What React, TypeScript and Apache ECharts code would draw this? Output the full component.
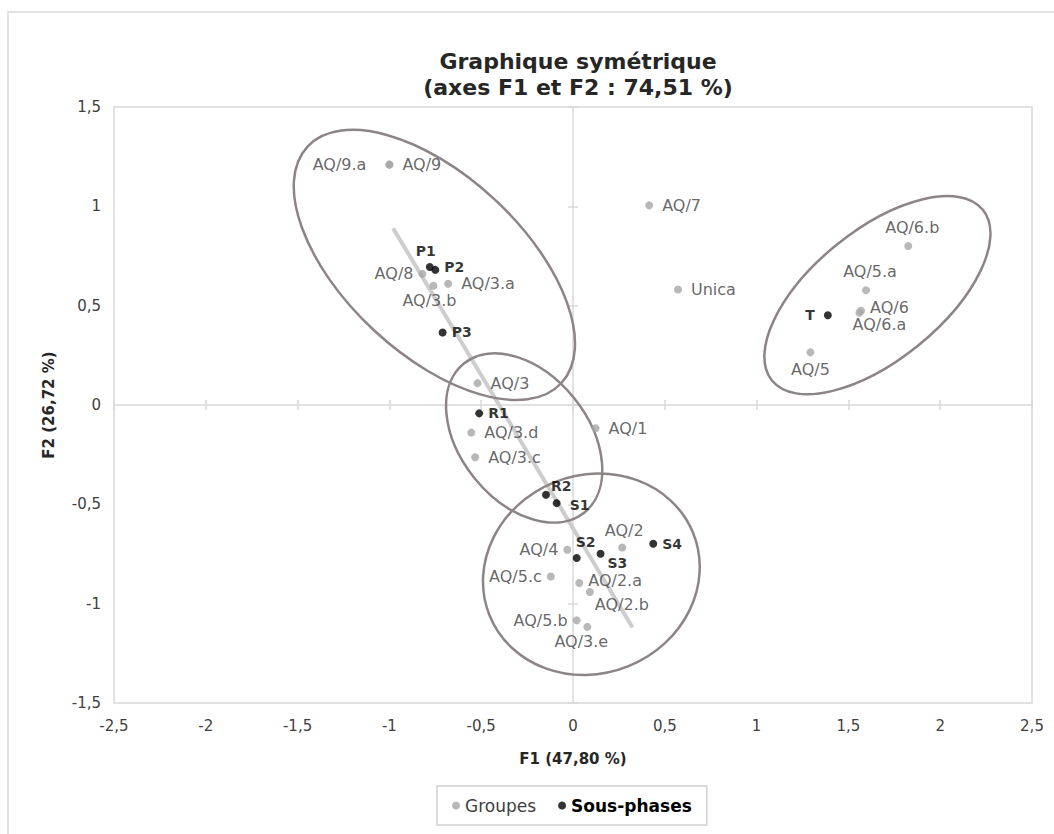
import React, { useEffect, useRef } from "react";
import * as echarts from "echarts";

// ---- Data ----
const groupNames = [
  "AQ/9.a", "AQ/9", "AQ/7", "Unica", "AQ/6.b", "AQ/5.a", "AQ/6", "AQ/6.a", "AQ/5",
  "AQ/8", "AQ/3.b", "AQ/3.a", "AQ/3", "AQ/3.d", "AQ/3.c", "AQ/1",
  "AQ/4", "AQ/2", "AQ/5.c", "AQ/2.a", "AQ/2.b", "AQ/5.b", "AQ/3.e",
];
const groupX = [
  -1.0, -1.0, 0.415, 0.572, 1.826, 1.596, 1.569, 1.56, 1.293,
  -0.82, -0.76, -0.68, -0.52, -0.554, -0.533, 0.123,
  -0.031, 0.268, -0.121, 0.034, 0.092, 0.02, 0.078,
];
const groupY = [
  1.21, 1.21, 1.005, 0.581, 0.8, 0.578, 0.474, 0.464, 0.265,
  0.66, 0.6, 0.61, 0.11, -0.139, -0.263, -0.117,
  -0.729, -0.717, -0.863, -0.896, -0.941, -1.084, -1.117,
];

const phaseNames = ["P1", "P2", "P3", "R1", "R2", "S1", "S2", "S3", "S4", "T"];
const phaseX = [-0.78, -0.75, -0.71, -0.511, -0.147, -0.089, 0.02, 0.15, 0.437, 1.388];
const phaseY = [0.695, 0.68, 0.365, -0.042, -0.452, -0.494, -0.77, -0.749, -0.698, 0.452];

// trend line end points
const trendX = [-0.98, 0.324];
const trendY = [0.89, -1.12];

// ellipses: centre x, centre y, semi-major, semi-minor (x-axis units), angle (deg, counter-clockwise)
const ellipseCx = [-0.755, -0.266, 0.1, 1.658];
const ellipseCy = [0.705, -0.166, -0.852, 0.553];
const ellipseA = [0.945, 0.522, 0.598, 0.739];
const ellipseB = [0.485, 0.348, 0.54, 0.353];
const ellipseAngle = [-43, -51, 22, 39];

const xTickMin = -2.5;
const xTickMax = 2.5;
const yTickMin = -1.5;
const yTickMax = 1.5;
const tickStep = 0.5;

// ---- Label placement (styles) ----
type Place = { position: string; offset?: number[] };
const labelPlace: Record<string, Place> = {
  "AQ/9.a": { position: "left", offset: [-14, 0] },
  "AQ/9": { position: "right", offset: [4, 0] },
  "AQ/7": { position: "right", offset: [4, 0] },
  Unica: { position: "right", offset: [4, 0] },
  "AQ/6.b": { position: "top", offset: [4, -2] },
  "AQ/5.a": { position: "top", offset: [4, -2] },
  "AQ/6": { position: "right", offset: [0, -3] },
  "AQ/6.a": { position: "bottom", offset: [20, -5] },
  "AQ/5": { position: "bottom" },
  "AQ/8": { position: "left" },
  "AQ/3.b": { position: "bottom", offset: [-4, -2] },
  "AQ/3.a": { position: "right", offset: [4, 0] },
  "AQ/3": { position: "right", offset: [4, 0] },
  "AQ/3.d": { position: "right", offset: [4, 0] },
  "AQ/3.c": { position: "right", offset: [4, 0] },
  "AQ/1": { position: "right", offset: [4, 0] },
  "AQ/4": { position: "left" },
  "AQ/2": { position: "top", offset: [2, 0] },
  "AQ/5.c": { position: "left" },
  "AQ/2.a": { position: "right", offset: [0, -3] },
  "AQ/2.b": { position: "bottom", offset: [32, -4] },
  "AQ/5.b": { position: "left" },
  "AQ/3.e": { position: "bottom", offset: [-6, -2] },
  P1: { position: "top", offset: [-4, 0] },
  P2: { position: "right", offset: [0, -3] },
  P3: { position: "right" },
  R1: { position: "right" },
  R2: { position: "right", offset: [-4, -9] },
  S1: { position: "right", offset: [4, 2] },
  S2: { position: "top", offset: [9, 0] },
  S3: { position: "right", offset: [-2, 9] },
  S4: { position: "right" },
  T: { position: "left", offset: [-4, 0] },
};

const FONT = "'Century Gothic', 'DejaVu Sans', sans-serif";
const fmt = (v: number) => String(v).replace(".", ",");

export default function App() {
  const ref = useRef<HTMLDivElement>(null);

  useEffect(() => {
    if (!ref.current) return;
    const chart = echarts.init(ref.current, undefined, { renderer: "svg" });

    const groupData = groupNames.map((n, i) => ({
      name: n,
      value: [groupX[i], groupY[i]],
      label: { position: labelPlace[n]?.position || "right", offset: labelPlace[n]?.offset || [0, 0] },
    }));
    const phaseData = phaseNames.map((n, i) => ({
      name: n,
      value: [phaseX[i], phaseY[i]],
      label: { position: labelPlace[n]?.position || "right", offset: labelPlace[n]?.offset || [0, 0] },
    }));
    const ellipseData = ellipseCx.map((cx, i) => [cx, ellipseCy[i], ellipseA[i], ellipseB[i], ellipseAngle[i]]);

    const zeroLine = { color: "#d9d9d9", width: 1.5 };
    const baseX = { type: "value", min: xTickMin, max: xTickMax, interval: tickStep, position: "bottom", splitLine: { show: false } };
    const baseY = { type: "value", min: yTickMin, max: yTickMax, interval: tickStep, position: "left", splitLine: { show: false } };

    chart.setOption({
      animation: false,
      backgroundColor: "#ffffff",
      textStyle: { fontFamily: FONT },
      title: {
        text: "Graphique symétrique\n(axes F1 et F2 : 74,51 %)",
        left: 573,
        textAlign: "center",
        top: 43,
        textStyle: { fontFamily: FONT, fontSize: 22, fontWeight: "bold", color: "#262626", lineHeight: 26 },
      },
      graphic: [
        {
          type: "rect",
          shape: { x: 8, y: 12, width: 1100, height: 900 },
          style: { fill: "transparent", stroke: "#d9d9d9", lineWidth: 1.5 },
          silent: true,
          z: -10,
        },
      ],
      legend: {
        data: ["Groupes", "Sous-phases"],
        left: 437,
        top: 786,
        padding: [11, 15],
        borderColor: "#cfcfcf",
        borderWidth: 1.5,
        icon: "circle",
        itemWidth: 8,
        itemHeight: 8,
        itemGap: 22,
        textStyle: {
          fontFamily: FONT,
          fontSize: 17,
          color: "#404040",
          rich: {
            n: { fontFamily: FONT, fontSize: 17, color: "#404040" },
            b: { fontFamily: FONT, fontSize: 17, color: "#000", fontWeight: "bold" },
          },
        },
        formatter: (name: string) => (name === "Sous-phases" ? `{b|${name}}` : `{n|${name}}`),
      },
      grid: { left: 114, right: 22, top: 107, bottom: 131, show: true, borderColor: "#d9d9d9", borderWidth: 1.5, backgroundColor: "transparent" },
      xAxis: [
        {
          ...baseX,
          axisLine: { show: false, onZero: false },
          axisTick: { show: false },
          axisLabel: { margin: 15, fontSize: 15, color: "#404040", fontFamily: FONT, formatter: fmt },
          name: "F1 (47,80 %)",
          nameLocation: "middle",
          nameGap: 48,
          nameTextStyle: { fontFamily: FONT, fontSize: 15, fontWeight: "bold", color: "#262626" },
        },
        {
          ...baseX,
          axisLine: { show: true, onZero: true, onZeroAxisIndex: 0, lineStyle: zeroLine },
          axisTick: { show: true, inside: true, length: 5, lineStyle: zeroLine },
          axisLabel: { show: false },
        },
        {
          ...baseX,
          axisLine: { show: false, onZero: true, onZeroAxisIndex: 0, lineStyle: zeroLine },
          axisTick: { show: true, inside: false, length: 5, lineStyle: zeroLine },
          axisLabel: { show: false },
        },
      ],
      yAxis: [
        {
          ...baseY,
          axisLine: { show: false, onZero: false },
          axisTick: { show: false },
          axisLabel: { margin: 13, fontSize: 15, color: "#404040", fontFamily: FONT, formatter: fmt },
          name: "F2 (26,72 %)",
          nameLocation: "middle",
          nameGap: 58,
          nameRotate: 90,
          nameTextStyle: { fontFamily: FONT, fontSize: 15, fontWeight: "bold", color: "#262626" },
        },
        {
          ...baseY,
          axisLine: { show: true, onZero: true, onZeroAxisIndex: 0, lineStyle: zeroLine },
          axisTick: { show: true, inside: true, length: 5, lineStyle: zeroLine },
          axisLabel: { show: false },
        },
        {
          ...baseY,
          axisLine: { show: false, onZero: true, onZeroAxisIndex: 0, lineStyle: zeroLine },
          axisTick: { show: true, inside: false, length: 5, lineStyle: zeroLine },
          axisLabel: { show: false },
        },
      ],
      series: [
        {
          type: "line",
          name: "trend",
          data: trendX.map((x, i) => [x, trendY[i]]),
          symbol: "none",
          lineStyle: { color: "#cdcdcd", width: 4 },
          silent: true,
          z: 1,
        },
        {
          type: "custom",
          name: "ellipses",
          data: ellipseData,
          encode: { x: 0, y: 1 },
          silent: true,
          z: 2,
          renderItem: (params: any, api: any) => {
            const c = api.coord([api.value(0), api.value(1)]);
            const unit = api.size([1, 0])[0];
            return {
              type: "ellipse",
              x: c[0],
              y: c[1],
              rotation: (api.value(4) * Math.PI) / 180,
              shape: { cx: 0, cy: 0, rx: api.value(2) * unit, ry: api.value(3) * unit },
              style: { fill: "none", stroke: "#8d8585", lineWidth: 2.5 },
            };
          },
        },
        {
          type: "scatter",
          name: "Groupes",
          data: groupData,
          symbolSize: 8,
          itemStyle: { color: "#a6a6a6" },
          label: { show: true, formatter: "{b}", fontFamily: FONT, fontSize: 16, color: "#404040", distance: 5 },
          z: 3,
        },
        {
          type: "scatter",
          name: "Sous-phases",
          data: phaseData,
          symbolSize: 8,
          itemStyle: { color: "#000000" },
          label: { show: true, formatter: "{b}", fontFamily: FONT, fontSize: 14, fontWeight: "bold", color: "#000000", distance: 5 },
          z: 4,
        },
      ],
    });

    return () => chart.dispose();
  }, []);

  return <div ref={ref} style={{ position: "absolute", left: 0, top: 0, width: 1054, height: 834 }} />;
}
